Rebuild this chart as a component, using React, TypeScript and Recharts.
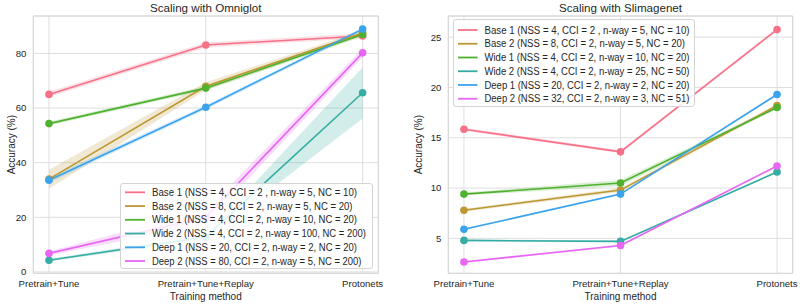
import React from 'react';
import {
  ComposedChart,
  Line,
  Area,
  XAxis,
  YAxis,
  CartesianGrid,
  ReferenceArea,
  Legend,
  Label,
} from 'recharts';

// ---- shared categories and styling ----
const CATEGORIES = ['Pretrain+Tune', 'Pretrain+Tune+Replay', 'Protonets'];
const SERIES_KEYS = ['base1', 'base2', 'wide1', 'wide2', 'deep1', 'deep2'];
const COLORS = ['#f77189', '#bb9832', '#50b131', '#36ada4', '#3ba3ec', '#e866f4'];

// ---- Omniglot panel ----
const OMNI_TITLE = 'Scaling with Omniglot';
const OMNI_LABELS = [
  'Base 1 (NSS = 4, CCI = 2 , n-way = 5, NC = 10)',
  'Base 2 (NSS = 8, CCI = 2, n-way = 5, NC = 20)',
  'Wide 1 (NSS = 4, CCI = 2, n-way = 10, NC = 20)',
  'Wide 2 (NSS = 4, CCI = 2, n-way = 100, NC = 200)',
  'Deep 1 (NSS = 20, CCI = 2, n-way = 2, NC = 20)',
  'Deep 2 (NSS = 80, CCI = 2, n-way = 5, NC = 200)',
];
const OMNI_MEAN = [
  [65.0, 83.1, 86.4],
  [34.0, 68.0, 87.5],
  [54.3, 67.3, 86.9],
  [4.3, 12.8, 65.6],
  [33.6, 60.3, 88.9],
  [6.8, 20.0, 80.2],
];
const OMNI_LOW = [
  [64.0, 82.2, 85.6],
  [30.5, 66.6, 86.6],
  [53.6, 66.5, 86.1],
  [3.8, 12.0, 56.2],
  [32.6, 59.6, 88.2],
  [6.0, 17.5, 78.6],
];
const OMNI_HIGH = [
  [66.0, 84.0, 87.4],
  [37.4, 69.4, 88.4],
  [55.0, 68.1, 87.7],
  [4.8, 13.6, 74.8],
  [34.6, 61.0, 89.5],
  [7.6, 22.5, 81.8],
];
const OMNI_TICKS = [0, 20, 40, 60, 80];
const OMNI_DOMAIN = [-0.5, 93.7];

// ---- Slimagenet panel ----
const SLIM_TITLE = 'Scaling with Slimagenet';
const SLIM_LABELS = [
  'Base 1 (NSS = 4, CCI = 2 , n-way = 5, NC = 10)',
  'Base 2 (NSS = 8, CCI = 2, n-way = 5, NC = 20)',
  'Wide 1 (NSS = 4, CCI = 2, n-way = 10, NC = 20)',
  'Wide 2 (NSS = 4, CCI = 2, n-way = 25, NC = 50)',
  'Deep 1 (NSS = 20, CCI = 2, n-way = 2, NC = 20)',
  'Deep 2 (NSS = 32, CCI = 2, n-way = 3, NC = 51)',
];
const SLIM_MEAN = [
  [15.85, 13.6, 25.75],
  [7.8, 9.8, 18.2],
  [9.4, 10.5, 18.0],
  [4.8, 4.7, 11.6],
  [5.9, 9.4, 19.3],
  [2.65, 4.3, 12.2],
];
const SLIM_LOW = [
  [15.7, 13.45, 25.6],
  [7.65, 9.6, 18.05],
  [9.25, 10.2, 17.85],
  [4.7, 4.6, 11.5],
  [5.8, 9.3, 19.2],
  [2.55, 4.2, 12.1],
];
const SLIM_HIGH = [
  [16.0, 13.75, 25.9],
  [7.95, 10.0, 18.35],
  [9.55, 10.8, 18.15],
  [4.9, 4.8, 11.7],
  [6.0, 9.5, 19.4],
  [2.75, 4.4, 12.3],
];
const SLIM_TICKS = [5, 10, 15, 20, 25];
const SLIM_DOMAIN = [1.53, 27.1];

const FONT = '"Liberation Sans", Arial, sans-serif';
const TEXT = '#262626';
const GRID = '#dedede';
const X_DOMAIN = [-0.1, 2.1];

function buildRows(mean: number[][], low: number[][], high: number[][]) {
  return CATEGORIES.map((_, i) => {
    const row: Record<string, any> = { x: i };
    SERIES_KEYS.forEach((k, s) => {
      row[k] = mean[s][i];
      row[k + 'Band'] = [low[s][i], high[s][i]];
    });
    return row;
  });
}

type LegendBox = {
  left: number;
  top: number;
  width: number;
  height: number;
  rowTop: number;
  rowGap: number;
  sampleX0: number;
  sampleX1: number;
  textX: number;
  textWidth: number;
};

function makeLegend(labels: string[], box: LegendBox) {
  return () => (
    <div
      style={{
        width: box.width,
        height: box.height,
        boxSizing: 'border-box',
        border: '1px solid #d4d4d4',
        borderRadius: 3,
        background: 'rgba(255,255,255,0.85)',
      }}
    >
      <svg width={box.width - 2} height={box.height - 2} style={{ display: 'block', overflow: 'visible' }}>
        {labels.map((lab, i) => {
          const y = box.rowTop + i * box.rowGap;
          return (
            <g key={lab}>
              <line x1={box.sampleX0} x2={box.sampleX1} y1={y} y2={y} stroke={COLORS[i]} strokeWidth={1.8} />
              <text
                x={box.textX}
                y={y}
                dy="0.35em"
                fontFamily={FONT}
                fontSize={10}
                fill={TEXT}
                textLength={box.textWidth * (lab.length / 46)}
                lengthAdjust="spacingAndGlyphs"
              >
                {lab}
              </text>
            </g>
          );
        })}
      </svg>
    </div>
  );
}

type PanelProps = {
  title: string;
  rows: Record<string, any>[];
  labels: string[];
  ticks: number[];
  domain: number[];
  yAxisWidth: number;
  marginRight: number;
  legend: LegendBox;
  yLabelX: number;
};

function Panel(p: PanelProps) {
  const plotTop = 16;
  const plotBottom = 273.3;
  const plotLeft = p.yAxisWidth;
  const plotRight = 400 - p.marginRight;
  return (
    <ComposedChart
      width={400}
      height={305}
      data={p.rows}
      margin={{ top: plotTop, right: p.marginRight, bottom: 0, left: 0 }}
    >
      <text
        x={(plotLeft + plotRight) / 2}
        y={7.5}
        dy="0.35em"
        textAnchor="middle"
        fontFamily={FONT}
        fontSize={11.6}
        fill={TEXT}
      >
        {p.title}
      </text>
      <CartesianGrid stroke={GRID} strokeWidth={1} />
      <XAxis
        type="number"
        dataKey="x"
        domain={X_DOMAIN}
        ticks={[0, 1, 2]}
        tickFormatter={(v: number) => CATEGORIES[v] ?? ''}
        height={305 - plotBottom}
        axisLine={false}
        tickLine={false}
        tickSize={0}
        tickMargin={7}
        tick={{ fontFamily: FONT, fontSize: 9.6, fill: TEXT }}
        interval={0}
        allowDataOverflow
      >
        <Label
          value="Training method"
          position="insideBottom"
          offset={5}
          style={{ fontFamily: FONT, fontSize: 10, fill: TEXT }}
        />
      </XAxis>
      <YAxis
        type="number"
        domain={p.domain}
        ticks={p.ticks}
        width={p.yAxisWidth}
        axisLine={false}
        tickLine={false}
        tickSize={0}
        tickMargin={7}
        tick={{ fontFamily: FONT, fontSize: 9.6, fill: TEXT }}
        allowDataOverflow
      >
        <Label
          content={() => (
            <text
              x={p.yLabelX}
              y={(plotTop + plotBottom) / 2}
              transform={`rotate(-90 ${p.yLabelX} ${(plotTop + plotBottom) / 2})`}
              textAnchor="middle"
              dy="0.35em"
              fontFamily={FONT}
              fontSize={10}
              fill={TEXT}
            >
              Accuracy (%)
            </text>
          )}
        />
      </YAxis>
      <ReferenceArea
        x1={X_DOMAIN[0]}
        x2={X_DOMAIN[1]}
        y1={p.domain[0]}
        y2={p.domain[1]}
        fill="none"
        stroke="#d6d6d6"
        strokeWidth={1}
        ifOverflow="visible"
      />
      {SERIES_KEYS.map((k, s) => [
        <Area
          key={k + 'band'}
          type="linear"
          dataKey={k + 'Band'}
          stroke="none"
          fill={COLORS[s]}
          fillOpacity={0.22}
          isAnimationActive={false}
          activeDot={false}
        />,
        <Line
          key={k}
          type="linear"
          dataKey={k}
          stroke={COLORS[s]}
          strokeWidth={1.6}
          dot={{ r: 3.8, fill: COLORS[s], stroke: COLORS[s], strokeWidth: 0 }}
          activeDot={false}
          isAnimationActive={false}
        />,
      ])}
      <Legend
        layout="horizontal"
        verticalAlign="middle"
        align="center"
        wrapperStyle={{
          position: 'absolute',
          left: p.legend.left,
          top: p.legend.top,
          width: p.legend.width,
          height: p.legend.height,
          margin: 0,
          padding: 0,
        }}
        content={makeLegend(p.labels, p.legend)}
      />
    </ComposedChart>
  );
}

const omniRows = buildRows(OMNI_MEAN, OMNI_LOW, OMNI_HIGH);
const slimRows = buildRows(SLIM_MEAN, SLIM_LOW, SLIM_HIGH);

export default function App() {
  return (
    <div
      style={{
        position: 'absolute',
        left: 0,
        top: 0,
        width: 800,
        height: 305,
        background: '#ffffff',
        overflow: 'hidden',
      }}
    >
      <div style={{ position: 'absolute', left: 0, top: 0 }}>
        <Panel
          title={OMNI_TITLE}
          rows={omniRows}
          labels={OMNI_LABELS}
          ticks={OMNI_TICKS}
          domain={OMNI_DOMAIN}
          yAxisWidth={33.3}
          marginRight={21.7}
          yLabelX={12}
          legend={{
            left: 120,
            top: 182.7,
            width: 253,
            height: 86.5,
            rowTop: 8.3,
            rowGap: 13.75,
            sampleX0: 4,
            sampleX1: 24,
            textX: 31,
            textWidth: 205,
          }}
        />
      </div>
      <div style={{ position: 'absolute', left: 400, top: 0 }}>
        <Panel
          title={SLIM_TITLE}
          rows={slimRows}
          labels={SLIM_LABELS}
          ticks={SLIM_TICKS}
          domain={SLIM_DOMAIN}
          yAxisWidth={48.3}
          marginRight={7.3}
          yLabelX={19}
          legend={{
            left: 52.7,
            top: 19.3,
            width: 242.5,
            height: 88,
            rowTop: 10,
            rowGap: 13.75,
            sampleX0: 4,
            sampleX1: 23.5,
            textX: 30.5,
            textWidth: 205,
          }}
        />
      </div>
    </div>
  );
}
